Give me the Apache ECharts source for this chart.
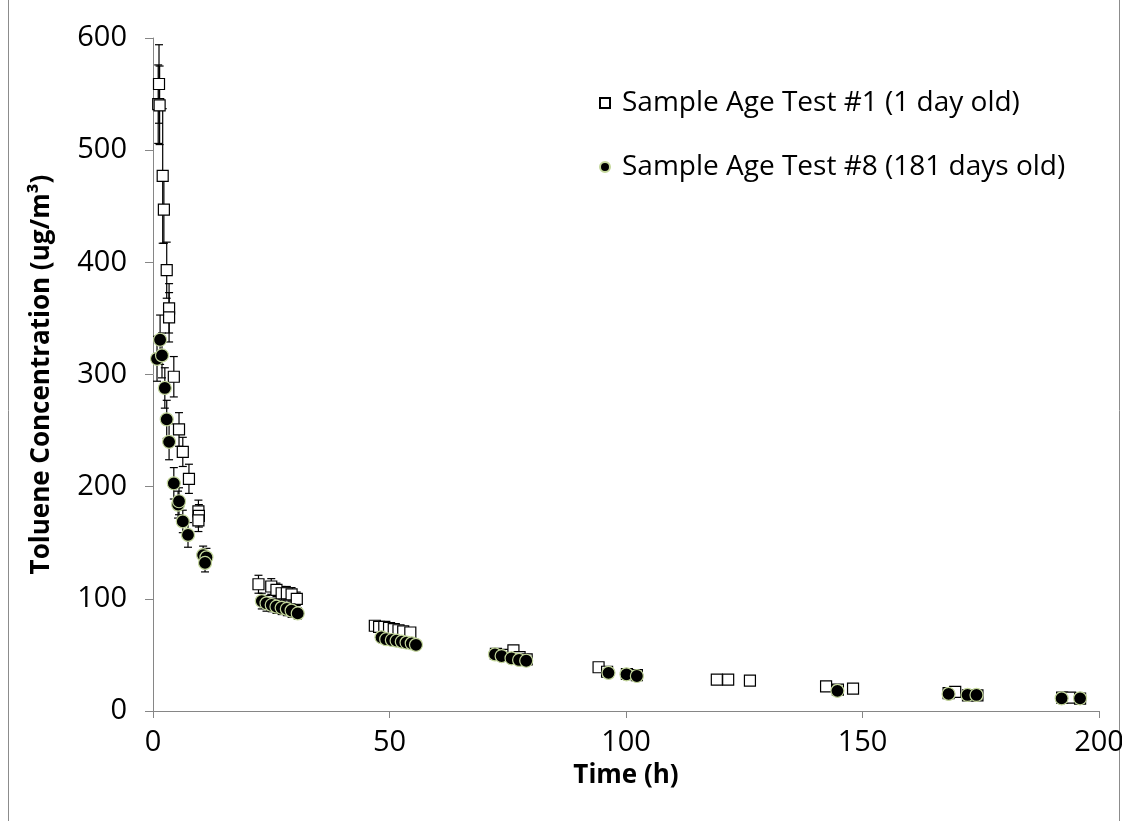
<!DOCTYPE html>
<html><head><meta charset="utf-8">
<script src="https://cdn.jsdelivr.net/npm/echarts@6/dist/echarts.min.js"></script>
<style>html,body{margin:0;padding:0;background:#fff}#c{width:1122px;height:821px}</style>
</head><body><div id="c"></div>
<script>
const seriesNames = ['Sample Age Test #1 (1 day old)', 'Sample Age Test #8 (181 days old)'];
const xTicks = [0, 50, 100, 150, 200];
const yTicks = [0, 100, 200, 300, 400, 500, 600];

const test1Time = [1.27,1.1,1.4,2.05,2.3,2.9,3.4,3.4,4.4,5.5,6.3,7.6,9.6,9.7,9.6,
  22.3,25,26.1,27.2,28.3,29.3,30.4,
  46.9,47.8,48.9,49.9,50.9,51.9,52.9,54.4,
  72.5,74,76.2,77.5,79,
  94.2,96,100.2,102.3,
  119.2,121.6,126.2,
  142.3,144.8,148,
  168.2,169.6,172.3,174.3,
  192.2,193.9,196];
const test1Conc = [559,541,540,477,447,393,359,351,298,251,231,207,178,174,170,
  113,111,108,105,105,104,100,
  76,75,75,74,73,72,71,70,
  51,50,54,48,46,
  39,35,33,32,
  28,28,27,
  22,19,20,
  16,17,14,14,
  12,12,11];
const test1Err = [35,35,35,60,30,25,22,22,18,15,13,13,10,10,10,
  8,7,6,6,6,6,6,
  3,3,3,3,3,3,3,3,
  2,2,2,2,2,
  3,2,2,2,
  2,2,2,
  2,2,2,
  2,2,2,2,
  2,2,2];

const test8Time = [0.85,1.5,1.9,2.5,2.9,3.4,4.4,5.3,5.5,6.3,7.4,10.6,11.3,11,
  23,24,25.1,26.1,27.2,28.3,29.3,30.6,
  48.3,49.3,50.5,51.5,52.6,53.6,54.7,55.6,
  72.3,73.7,75.8,77.4,78.9,
  96.3,100.1,102.3,
  144.7,
  168.2,172.2,174.1,
  192.1,196];
const test8Conc = [314,331,317,288,260,240,203,184,187,169,157,139,137,132,
  98,96,94.5,93,92,91,89.5,87,
  65.7,64,63.3,62.7,61.8,61,60.3,59,
  50.5,49,47,45.5,44.8,
  34,32.7,31.2,
  18,
  15.2,14.3,14.3,
  11.3,11.3];
const test8Err = [20,22,20,18,17,16,14,12,12,10,11,8,8,8,
  7,7,6,6,6,6,6,5,
  4,4,4,4,4,4,4,4,
  3,3,3,3,3,
  2,2,2,
  2,
  2,2,2,
  2,2];

const d1 = test1Time.map((t, i) => [t, test1Conc[i], test1Err[i]]);
const d8 = test8Time.map((t, i) => [t, test8Conc[i], test8Err[i]]);

function errRender(params, api) {
  const x = api.value(0), y = api.value(1), e = api.value(2);
  const top = api.coord([x, y + e]);
  const bot = api.coord([x, y - e]);
  const hw = 4;
  const st = {stroke: '#000', lineWidth: 1.2};
  return {type: 'group', children: [
    {type: 'line', shape: {x1: top[0], y1: top[1], x2: bot[0], y2: bot[1]}, style: st},
    {type: 'line', shape: {x1: top[0]-hw, y1: top[1], x2: top[0]+hw, y2: top[1]}, style: st},
    {type: 'line', shape: {x1: bot[0]-hw, y1: bot[1], x2: bot[0]+hw, y2: bot[1]}, style: st}
  ]};
}

const font = '"Open Sans", Lato, sans-serif';
const chart = echarts.init(document.getElementById('c'), null, {renderer: 'canvas'});
chart.setOption({
  animation: false,
  backgroundColor: '#fff',
  grid: {left: 153, right: 23, top: 38, bottom: 110, containLabel: false, outerBoundsMode: 'none'},
  graphic: [{type: 'rect', shape: {x: 8.5, y: -2, width: 1111, height: 825},
    style: {fill: 'none', stroke: '#8c8c8c', lineWidth: 1}, silent: true}],
  legend: {
    orient: 'vertical', left: 594, top: 84, itemGap: 36, itemWidth: 10, itemHeight: 10,
    textStyle: {fontFamily: font, fontSize: 28, color: '#000', padding: [0,0,0,7]},
    data: seriesNames
  },
  xAxis: {
    type: 'value', min: 0, max: 200, interval: 50,
    axisLine: {show: true, lineStyle: {color: '#868686', width: 1}},
    axisTick: {show: true, length: 7, lineStyle: {color: '#868686'}},
    splitLine: {show: false},
    axisLabel: {fontFamily: font, fontSize: 29, color: '#000', margin: 17,
      formatter: v => xTicks.includes(v) ? String(v) : ''},
    name: 'Time (h)', nameLocation: 'middle', nameGap: 52,
    nameTextStyle: {fontFamily: font, fontSize: 26, fontWeight: 'bold', color: '#000'}
  },
  yAxis: {
    type: 'value', min: 0, max: 600, interval: 100,
    axisLine: {show: true, lineStyle: {color: '#868686', width: 1}},
    axisTick: {show: true, length: 8, lineStyle: {color: '#868686'}},
    splitLine: {show: false},
    axisLabel: {fontFamily: font, fontSize: 29, color: '#000', margin: 26,
      formatter: v => yTicks.includes(v) ? String(v) : ''},
    name: 'Toluene Concentration (ug/m³)', nameLocation: 'middle', nameGap: 98,
    nameTextStyle: {fontFamily: font, fontSize: 26, fontWeight: 'bold', color: '#000'}
  },
  series: [
    {type: 'custom', name: 'err1', renderItem: errRender, data: d1, z: 2,
      encode: {x: 0, y: 1}, silent: true},
    {type: 'scatter', name: seriesNames[0], data: d1, symbol: 'rect', symbolSize: 11, z: 3,
      itemStyle: {color: '#fff', borderColor: '#000', borderWidth: 1.2, opacity: 1}},
    {type: 'custom', name: 'err8', renderItem: errRender, data: d8, z: 4,
      encode: {x: 0, y: 1}, silent: true},
    {type: 'scatter', name: seriesNames[1], data: d8, symbol: 'circle', symbolSize: 13, z: 5,
      itemStyle: {color: '#000', borderColor: '#c4d79b', borderWidth: 1.2, opacity: 1}}
  ]
});
</script></body></html>
